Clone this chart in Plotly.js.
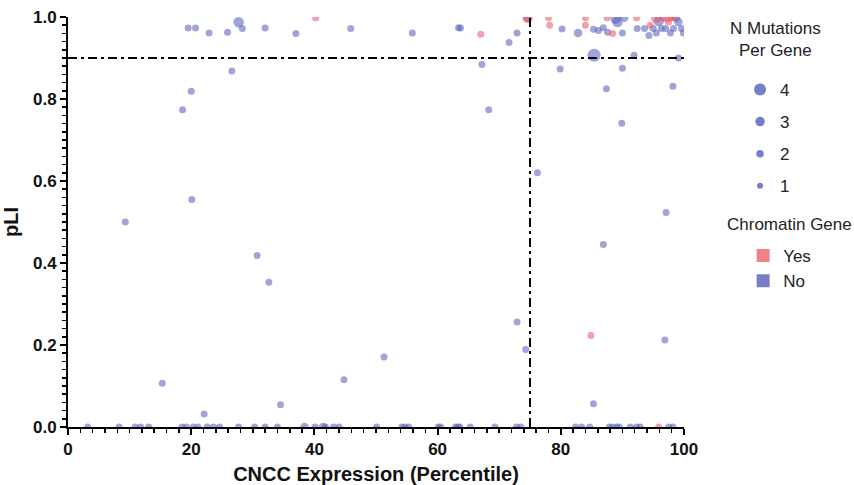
<!DOCTYPE html>
<html>
<head>
<meta charset="utf-8">
<script src="https://cdn.plot.ly/plotly-3.0.1.min.js"></script>
<style>html,body{margin:0;padding:0;background:#fff;}#chart{width:854px;height:485px;}</style>
</head>
<body>
<div id="chart"></div>
<script>
// Chromatin gene = Yes
const yesX = [40.2, 67.0, 74.6, 78.0, 78.2, 84.0, 84.0, 87.5, 88.4, 92.3, 94.5, 95.5, 96.6, 97.2, 97.5, 97.9, 98.4, 84.9, 95.9];
const yesY = [0.998, 0.958, 0.998, 0.998, 0.980, 0.998, 0.980, 0.998, 0.960, 0.998, 0.980, 0.998, 0.998, 0.996, 0.988, 0.998, 0.998, 0.223, 0.0];
const yesN = [1, 1, 3, 1, 1, 1, 1, 1, 1, 1, 1, 3, 1, 1, 1, 1, 1, 1, 1];

// Chromatin gene = No
const noX = [
  19.5, 20.7, 22.9, 25.9, 27.7, 28.3, 32.0, 37.0, 45.9, 55.9, 63.4, 63.7, 72.9, 71.6, 74.6, 80.2, 82.8, 85.3, 86.1, 86.9,
  87.6, 88.9, 89.2, 90.0, 90.3, 92.4, 93.6, 94.3, 95.0, 95.5, 95.9, 96.3, 97.0, 97.8, 98.3, 98.7, 99.1, 99.6, 99.9,
  85.4, 91.9, 99.1,
  67.2, 79.9, 90.0, 26.6, 87.4, 98.2, 20.0, 18.6, 68.3, 89.9, 76.2, 20.1, 97.1, 9.3, 86.9, 30.7, 32.6, 72.9, 96.9, 74.3,
  51.3, 44.8, 15.3, 85.3, 34.5, 22.1,
  3.2, 8.3, 10.9, 11.8, 13.1, 18.5, 19.2, 20.3, 21.1, 22.6, 23.6, 24.6, 27.7, 30.3, 32.0, 34.0, 38.4, 40.1, 41.4, 41.8,
  43.1, 44.0, 50.1, 54.2, 54.7, 55.3, 60.1, 60.5, 62.9, 63.3, 63.6, 65.3, 69.3, 72.8, 73.5, 82.4, 83.4, 84.7, 87.9, 88.4,
  89.1, 89.5, 91.3, 92.3, 92.9, 97.5, 98.2
];
const noY = [
  0.973, 0.973, 0.961, 0.963, 0.987, 0.972, 0.973, 0.960, 0.972, 0.961, 0.974, 0.973, 0.961, 0.938, 0.998, 0.971, 0.961, 0.970, 0.967, 0.974,
  0.963, 0.996, 0.988, 0.961, 0.998, 0.972, 0.972, 0.955, 0.972, 0.961, 0.990, 0.972, 0.972, 0.961, 0.972, 0.998, 0.988, 0.972, 0.961,
  0.907, 0.907, 0.900,
  0.884, 0.873, 0.875, 0.868, 0.825, 0.831, 0.819, 0.774, 0.774, 0.741, 0.620, 0.555, 0.523, 0.500, 0.445, 0.418, 0.353, 0.256, 0.212, 0.189,
  0.171, 0.115, 0.107, 0.057, 0.054, 0.032,
  0, 0, 0, 0, 0, 0, 0, 0, 0, 0, 0, 0, 0, 0, 0, 0, 0, 0, 0, 0,
  0, 0, 0, 0, 0, 0, 0, 0, 0, 0, 0, 0, 0, 0, 0, 0, 0, 0, 0, 0,
  0, 0, 0, 0, 0, 0, 0
];
const noN = [
  1, 1, 1, 1, 3, 1, 1, 1, 1, 1, 1, 1, 1, 1, 2, 1, 2, 1, 1, 1,
  1, 3, 3, 1, 2, 1, 1, 1, 1, 1, 3, 1, 1, 1, 1, 2, 2, 1, 1,
  4, 1, 1,
  1, 1, 1, 1, 1, 1, 1, 1, 1, 1, 1, 1, 1, 1, 1, 1, 1, 1, 1, 1,
  1, 1, 1, 1, 1, 1,
  1, 1, 1, 1, 1, 1, 1, 1, 1, 1, 1, 1, 1, 1, 1, 1, 2, 1, 2, 1,
  1, 1, 1, 1, 1, 1, 1, 1, 1, 1, 1, 1, 1, 1, 1, 1, 1, 1, 1, 1,
  1, 1, 1, 1, 1, 1, 1
];

const mutationLevels = [4, 3, 2, 1];
const chromatinLabels = ['Yes', 'No'];
const pliThreshold = 0.9;
const expressionThreshold = 75;

const BLUE = 'rgba(84,94,188,0.8)';
const RED = 'rgba(238,84,100,0.8)';
const LEG_BLUE = 'rgb(118,126,200)';
const LEG_RED = 'rgb(242,128,138)';
const sizeOf = n => [0, 7, 8.5, 10.5, 13][n];
const FONT = 'Liberation Sans, Arial, Helvetica, sans-serif';

const traces = [
  {x: noX, y: noY, type: 'scatter', mode: 'markers', showlegend: false,
   marker: {color: BLUE, size: noN.map(sizeOf), line: {width: 0}}, hoverinfo: 'x+y'},
  {x: yesX, y: yesY, type: 'scatter', mode: 'markers', showlegend: false,
   marker: {color: RED, size: yesN.map(sizeOf), line: {width: 0}}, hoverinfo: 'x+y'}
];
mutationLevels.forEach((n, i) => traces.push({
  x: [null], y: [null], type: 'scatter', mode: 'markers', name: String(n), legend: 'legend',
  legendgroup: 'm' + n, marker: {color: LEG_BLUE, size: sizeOf(n) - 1}
}));
chromatinLabels.forEach((lab, i) => traces.push({
  x: [null], y: [null], type: 'scatter', mode: 'markers', name: lab, legend: 'legend2',
  legendgroup: 'c' + lab, marker: {color: i === 0 ? LEG_RED : LEG_BLUE, size: 13, symbol: 'square'}
}));

const TICKFONT = {family: FONT, size: 17, color: '#111'};
const TITLEFONT = {family: FONT, size: 20, color: '#111'};
const CLEAR = 'rgba(0,0,0,0)';

const layout = {
  width: 854, height: 485,
  margin: {l: 68, r: 170, t: 17, b: 58},
  xaxis: {
    range: [0, 100], dtick: 20, showline: true, linewidth: 2, linecolor: '#000',
    ticks: 'outside', ticklen: 6, tickwidth: 2, tickcolor: '#000',
    gridcolor: CLEAR, zerolinecolor: CLEAR,
    tickfont: TICKFONT, tickprefix: '<b>', ticksuffix: '</b>',
    minor: {dtick: 2, ticks: 'outside', ticklen: 4, tickwidth: 1.5, tickcolor: '#000', gridcolor: CLEAR},
    title: {text: '<b>CNCC Expression (Percentile)</b>', font: TITLEFONT}
  },
  yaxis: {
    range: [0, 1], dtick: 0.2, tickformat: '.1f', showline: true, linewidth: 2, linecolor: '#000',
    ticks: 'outside', ticklen: 6, tickwidth: 2, tickcolor: '#000',
    gridcolor: CLEAR, zerolinecolor: CLEAR,
    tickfont: TICKFONT, tickprefix: '<b>', ticksuffix: '</b>',
    minor: {dtick: 0.02, ticks: 'outside', ticklen: 4, tickwidth: 1.5, tickcolor: '#000', gridcolor: CLEAR},
    title: {text: '<b>pLI</b>', font: TITLEFONT}
  },
  shapes: [
    {type: 'line', xref: 'x', yref: 'y', x0: 0, x1: 100, y0: pliThreshold, y1: pliThreshold,
     line: {color: '#000', width: 2, dash: '9px,4px,3px,4px'}},
    {type: 'line', xref: 'x', yref: 'y', x0: expressionThreshold, x1: expressionThreshold, y0: 0, y1: 1,
     line: {color: '#000', width: 2, dash: '9px,4px,3px,4px'}}
  ],
  annotations: [
    {xref: 'paper', yref: 'paper', x: 1.148, y: 0.944, text: 'N Mutations<br>Per Gene', showarrow: false,
     xanchor: 'center', yanchor: 'middle', font: {family: FONT, size: 17, color: '#222'}},
    {xref: 'paper', yref: 'paper', x: 1.172, y: 0.495, text: 'Chromatin Gene', showarrow: false,
     xanchor: 'center', yanchor: 'middle', font: {family: FONT, size: 17, color: '#222'}}
  ],
  legend: {x: 1.091, y: 0.866, xanchor: 'left', yanchor: 'top', tracegroupgap: 7,
    font: {family: FONT, size: 17, color: '#222'}, bgcolor: 'rgba(0,0,0,0)'},
  legend2: {x: 1.096, y: 0.461, xanchor: 'left', yanchor: 'top', tracegroupgap: 0,
    font: {family: FONT, size: 17, color: '#222'}, bgcolor: 'rgba(0,0,0,0)'},
  hovermode: 'closest'
};

Plotly.newPlot('chart', traces, layout, {displayModeBar: false, staticPlot: true});
</script>
</body>
</html>
